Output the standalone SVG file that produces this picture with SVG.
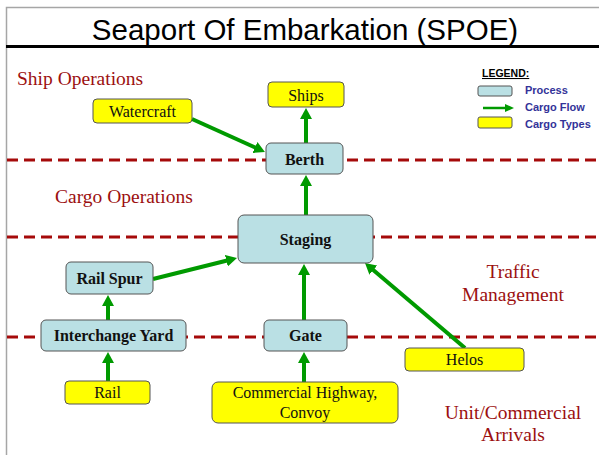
<svg xmlns="http://www.w3.org/2000/svg" width="599" height="455" viewBox="0 0 599 455">
  <style>
    .frame { stroke: #a6a6a6; stroke-width: 1.5; fill: none; }
    .zone { stroke: #a50a0a; stroke-width: 3; stroke-dasharray: 11 6; fill: none; }
    .zlabel { font-family: "Liberation Serif", "Times New Roman", serif; font-size: 19.5px; fill: #9c1010; }
    .proc rect { fill: #bae0e4; stroke: #555; stroke-width: 1; }
    .proc text { font-family: "Liberation Serif", "Times New Roman", serif; font-size: 16px; font-weight: bold; fill: #111; text-anchor: middle; }
    .cargo rect { fill: #ffff00; stroke: #555; stroke-width: 1; }
    .cargo text { font-family: "Liberation Serif", "Times New Roman", serif; font-size: 16px; fill: #111; text-anchor: middle; }
    .flow { stroke: #009a00; stroke-width: 4; fill: none; marker-end: url(#head); }
    .leg { font-family: "Liberation Sans", Arial, sans-serif; font-size: 11px; font-weight: bold; fill: #333399; }
  </style>
  <defs>
    <marker id="head" markerUnits="userSpaceOnUse" markerWidth="12" markerHeight="12" refX="4" refY="6" orient="auto" viewBox="0 0 12 12">
      <path d="M0,0 L11,6 L0,12 z" fill="#009a00"/>
    </marker>
    <marker id="headSmall" markerUnits="userSpaceOnUse" markerWidth="10" markerHeight="10" refX="3" refY="5" orient="auto" viewBox="0 0 10 10">
      <path d="M0,1 L9,5 L0,9 z" fill="#009a00"/>
    </marker>
  </defs>

  <rect width="599" height="455" fill="#ffffff"/>

  <!-- page frame and title -->
  <path class="frame" d="M6.5,455 V7.5 H599"/>
  <text x="305" y="39.5" font-family="'Liberation Sans', Arial, sans-serif" font-size="29.5" text-anchor="middle" fill="#000">Seaport Of Embarkation (SPOE)</text>
  <rect x="6" y="45" width="593" height="3" fill="#000"/>

  <!-- zone boundaries -->
  <g id="zones">
    <line class="zone" x1="7" y1="160" x2="599" y2="160"/>
    <line class="zone" x1="7" y1="237" x2="599" y2="237"/>
    <line class="zone" x1="7" y1="337" x2="599" y2="337"/>
  </g>

  <!-- zone labels -->
  <g id="zone-labels">
    <text class="zlabel" x="17" y="85">Ship Operations</text>
    <text class="zlabel" x="55" y="203">Cargo Operations</text>
    <text class="zlabel" x="513" y="278" text-anchor="middle">Traffic</text>
    <text class="zlabel" x="513" y="301" text-anchor="middle">Management</text>
    <text class="zlabel" x="513" y="419" text-anchor="middle">Unit/Commercial</text>
    <text class="zlabel" x="513" y="441" text-anchor="middle">Arrivals</text>
  </g>

  <!-- cargo flow connectors -->
  <g id="connectors">
    <line class="flow" x1="306" y1="143" x2="306" y2="115"/>
    <line class="flow" x1="192" y1="119" x2="258.6" y2="149.1"/>
    <line class="flow" x1="306" y1="215" x2="306" y2="182"/>
    <line class="flow" x1="153" y1="279" x2="230.2" y2="259.7"/>
    <line class="flow" x1="108" y1="320" x2="108" y2="302"/>
    <line class="flow" x1="304" y1="320" x2="304" y2="271"/>
    <line class="flow" x1="465" y1="348" x2="370.3" y2="267.5"/>
    <line class="flow" x1="108" y1="381" x2="108" y2="359"/>
    <line class="flow" x1="304" y1="382" x2="304" y2="359"/>
  </g>

  <!-- process nodes -->
  <g id="berth" class="proc">
    <rect x="266" y="143" width="77" height="31" rx="5"/>
    <text x="304.5" y="164.5">Berth</text>
  </g>
  <g id="staging" class="proc">
    <rect x="238" y="215" width="135" height="48" rx="6"/>
    <text x="305.5" y="244.5">Staging</text>
  </g>
  <g id="rail-spur" class="proc">
    <rect x="66" y="262" width="87" height="32" rx="5"/>
    <text x="109.5" y="284">Rail Spur</text>
  </g>
  <g id="interchange-yard" class="proc">
    <rect x="41" y="320" width="145" height="31" rx="5"/>
    <text x="113.5" y="341">Interchange Yard</text>
  </g>
  <g id="gate" class="proc">
    <rect x="264" y="320" width="83" height="31" rx="5"/>
    <text x="305.5" y="341">Gate</text>
  </g>

  <!-- cargo type nodes -->
  <g id="ships" class="cargo">
    <rect x="268" y="82" width="76" height="25" rx="4"/>
    <text x="306" y="100.5">Ships</text>
  </g>
  <g id="watercraft" class="cargo">
    <rect x="93" y="99" width="99" height="24" rx="4"/>
    <text x="142.5" y="116.5">Watercraft</text>
  </g>
  <g id="rail" class="cargo">
    <rect x="65" y="381" width="85" height="23" rx="4"/>
    <text x="107.5" y="398">Rail</text>
  </g>
  <g id="commercial-highway" class="cargo">
    <rect x="212" y="382" width="186" height="41" rx="6"/>
    <text x="305" y="398">Commercial Highway,</text>
    <text x="305" y="418">Convoy</text>
  </g>
  <g id="helos" class="cargo">
    <rect x="405" y="348" width="119" height="23" rx="4"/>
    <text x="464.5" y="365">Helos</text>
  </g>

  <!-- legend -->
  <g id="legend">
    <text x="482" y="77" font-family="'Liberation Sans', Arial, sans-serif" font-size="10.5" font-weight="bold" fill="#000" text-decoration="underline">LEGEND:</text>
    <rect x="478" y="86" width="34" height="10" rx="2" fill="#bae0e4" stroke="#555" stroke-width="1"/>
    <text class="leg" x="525" y="94">Process</text>
    <line x1="483" y1="108" x2="508" y2="108" stroke="#009a00" stroke-width="2.5" marker-end="url(#headSmall)"/>
    <text class="leg" x="525" y="111">Cargo Flow</text>
    <rect x="478" y="117" width="34" height="11" rx="2" fill="#ffff00" stroke="#555" stroke-width="1"/>
    <text class="leg" x="525" y="128">Cargo Types</text>
  </g>
</svg>
